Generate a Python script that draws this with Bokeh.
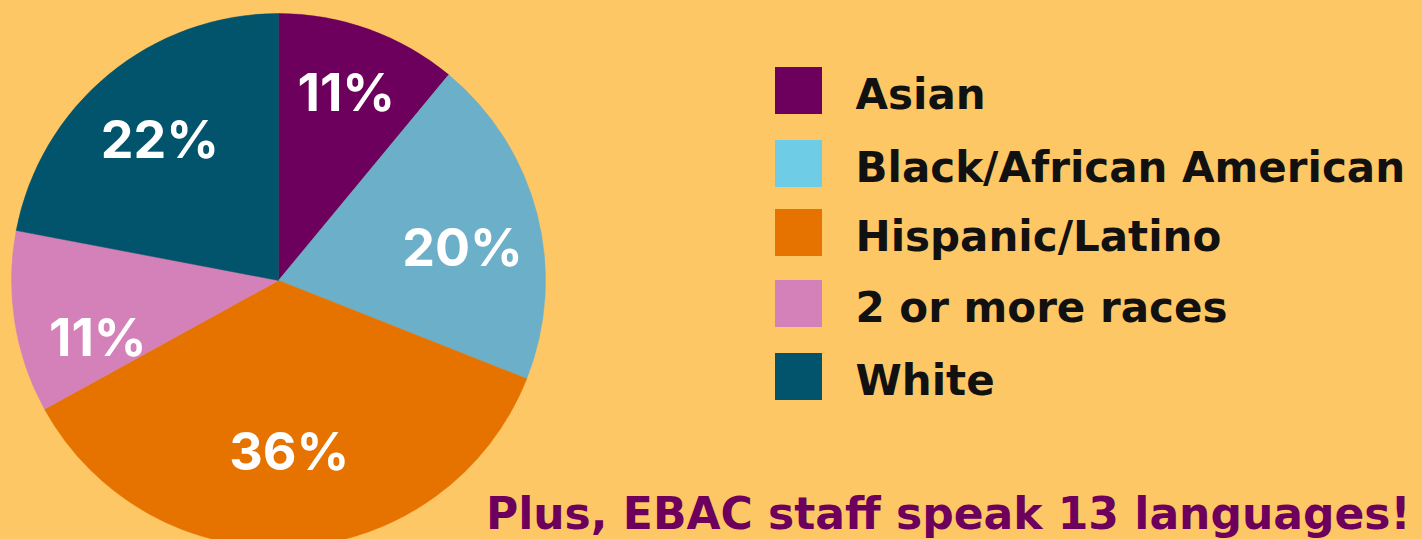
import math
from bokeh.plotting import figure
from bokeh.models import Range1d, ColumnDataSource
from bokeh.core.properties import value
from bokeh.embed import file_html
from bokeh.resources import INLINE

# ---- data ----
categories = ["Asian", "Black/African American", "Hispanic/Latino", "2 or more races", "White"]
percents = [11, 20, 36, 11, 22]
labels = ["11%", "20%", "36%", "11%", "22%"]
footnote = "Plus, EBAC staff speak 13 languages!"

# ---- styles ----
pie_colors = ["#6C005C", "#6CAFC8", "#E67300", "#D581B9", "#02546C"]
legend_colors = ["#6C005C", "#6ECCE6", "#E67300", "#D581B9", "#02546C"]
BG = "#FDC766"
LABEL_FONT = "Inter"
TEXT_FONT = "DejaVu Sans"

W, H = 1422, 539
p = figure(width=W, height=H, output_backend="svg", toolbar_location=None,
           x_range=Range1d(0, W), y_range=Range1d(0, H), min_border=0)
p.axis.visible = False
p.grid.visible = False
p.outline_line_color = None
p.background_fill_color = BG
p.border_fill_color = BG

# pie geometry (screen coords converted to data, y up)
cx, cy, R = 278, H - 280, 267
total = sum(percents)
starts, ends, lx, ly = [], [], [], []
cum = 0
label_r = [0.75, 0.70, 0.64, 0.71, 0.69]
label_da = [0.0, -4.3, 0.0, 8.6, 0.5]   # degree nudges for label placement
for i, v in enumerate(percents):
    a0 = math.pi / 2 - 2 * math.pi * cum / total
    cum += v
    a1 = math.pi / 2 - 2 * math.pi * cum / total
    starts.append(a0)
    ends.append(a1)
    mid = (a0 + a1) / 2 + math.radians(label_da[i])
    lx.append(cx + label_r[i] * R * math.cos(mid))
    ly.append(cy + label_r[i] * R * math.sin(mid))

src = ColumnDataSource(dict(start=starts, end=ends, color=pie_colors,
                            lx=lx, ly=ly, label=labels))
p.wedge(x=cx, y=cy, radius=R, start_angle="start", end_angle="end",
        direction="clock", fill_color="color", line_color="color",
        line_width=0.5, source=src)
p.text(x="lx", y="ly", text="label", source=src, text_color="white",
       text_font=value(LABEL_FONT), text_font_style="bold", text_font_size="52px",
       text_align="center", text_baseline="middle")

# legend
row_y = [H - 90, H - 163, H - 232, H - 303, H - 376]
lsrc = ColumnDataSource(dict(y=row_y, color=legend_colors, name=categories,
                             ty=[y - 4 for y in row_y]))
p.rect(x=798, y="y", width=47, height=47, fill_color="color", line_color=None, source=lsrc)
p.text(x=855, y="ty", text="name", source=lsrc, text_color="#111111",
       text_font=value(TEXT_FONT), text_font_style="bold", text_font_size="42px",
       text_align="left", text_baseline="middle")

# footnote
p.text(x=[1410], y=[H - 513], text=[footnote], text_color="#6C005C",
       text_font=value(TEXT_FONT), text_font_style="bold", text_font_size="44px",
       text_align="right", text_baseline="middle")

html = file_html(p, INLINE)
html = html.replace("</head>", "<style>html,body{margin:0;padding:0;background:%s;overflow:hidden}</style></head>" % BG, 1)
open("out.html", "w").write(html)
